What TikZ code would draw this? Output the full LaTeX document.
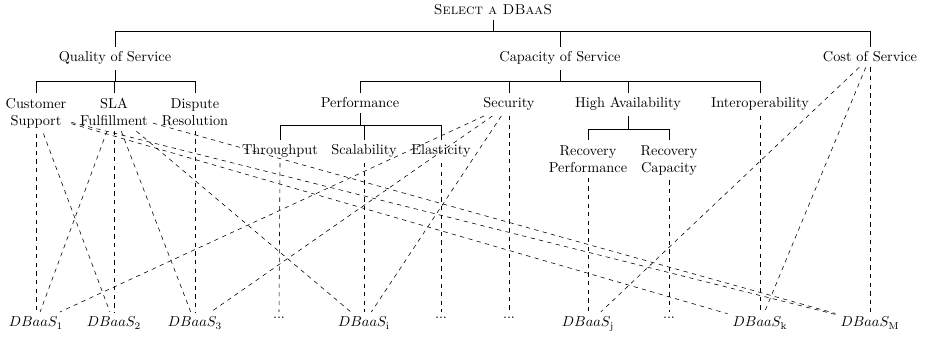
\documentclass[tikz,border=0pt]{standalone}
\begin{document}
\begin{tikzpicture}[x=0.697pt,y=-0.697pt,
  one/.style={anchor=base,inner sep=3.333pt},
  two/.style={align=center,anchor=north,inner sep=3.333pt},
  bot/.style={anchor=north,inner sep=3.333pt},
  tree/.style={line width=0.4pt},
  link/.style={dashed,line width=0.4pt}]
\useasboundingbox (0,0) rectangle (926,339);
% tree nodes
\node[one] (root) at (493,15) {\textsc{Select a DBaaS}};
\node[one] (qos) at (115,62) {Quality of Service};
\node[one] (cap) at (560,62) {Capacity of Service};
\node[one] (cost) at (870,62) {Cost of Service};
\node[two] (cs) at (36,93.4) {Customer\\Support};
\node[two] (sla) at (114,93.4) {SLA\\Fulfillment};
\node[two] (dr) at (195,93.4) {Dispute\\Resolution};
\node[one] (perf) at (360,108) {Performance};
\node[one] (sec) at (509,108) {Security};
\node[one] (ha) at (628,108) {High Availability};
\node[one] (iop) at (760,108) {Interoperability};
\node[one] (tp) at (280,155) {Throughput};
\node[one] (sc) at (364,155) {Scalability};
\node[one] (el) at (441,155) {Elasticity};
\node[two] (rp) at (588,140.4) {Recovery\\Performance};
\node[two] (rc) at (669,140.4) {Recovery\\Capacity};
% bottom nodes
\node[bot] (b1) at (36,312) {$DBaaS_1$};
\node[bot] (b2) at (114,312) {$DBaaS_2$};
\node[bot] (b3) at (195,312) {$DBaaS_3$};
\node[bot] (d1) at (279,312) {...};
\node[bot] (bi) at (364,312) {$DBaaS_\mathrm{i}$};
\node[bot] (d2) at (441,312) {...};
\node[bot] (d3) at (509,312) {...};
\node[bot] (bj) at (588,312) {$DBaaS_\mathrm{j}$};
\node[bot] (d4) at (669,312) {...};
\node[bot] (bk) at (760,312) {$DBaaS_\mathrm{k}$};
\node[bot] (bm) at (870,312) {$DBaaS_\mathrm{M}$};
% fork levels
\coordinate (f0) at (0,31);
\coordinate (f1) at (0,81);
\coordinate (f2) at (0,125);
\coordinate (f3) at (0,129);
% tree edges
\foreach \c in {qos,cap,cost}
  \draw[tree] (root.south) -- (root.south |- f0) -| (\c.north);
\foreach \c in {cs,sla,dr}
  \draw[tree] (qos.south) -- (qos.south |- f1) -| (\c.north);
\foreach \c in {perf,sec,ha,iop}
  \draw[tree] (cap.south) -- (cap.south |- f1) -| (\c.north);
\foreach \c in {tp,sc,el}
  \draw[tree] (perf.south) -- (perf.south |- f2) -| (\c.north);
\foreach \c in {rp,rc}
  \draw[tree] (ha.south) -- (ha.south |- f3) -| (\c.north);
% vertical dashed links
\draw[link] (cs.south) -- (b1.north);
\draw[link] (sla.south) -- (b2.north);
\draw[link] (dr.south) -- (b3.north);
\draw[link] (tp.south) -- (d1.north);
\draw[link] (sc.south) -- (bi.north);
\draw[link] (el.south) -- (d2.north);
\draw[link] (sec.south) -- (d3.north);
\draw[link] (rp.south) -- (bj.north);
\draw[link] (rc.south) -- (d4.north);
\draw[link] (iop.south) -- (bk.north);
\draw[link] (cost.south) -- (bm.north);
% diagonal dashed links
\draw[link] (cs) -- (b2);
\draw[link] (cs) -- (bk);
\draw[link] (cs) -- (bm);
\draw[link] (sla) -- (b1);
\draw[link] (sla) -- (b3);
\draw[link] (sla) -- (bi);
\draw[link] (sla) -- (bm);
\draw[link] (sec) -- (b1);
\draw[link] (sec) -- (b3);
\draw[link] (sec) -- (bi);
\draw[link] (cost) -- (bj);
\draw[link] (cost) -- (bk);
\end{tikzpicture}
\end{document}
